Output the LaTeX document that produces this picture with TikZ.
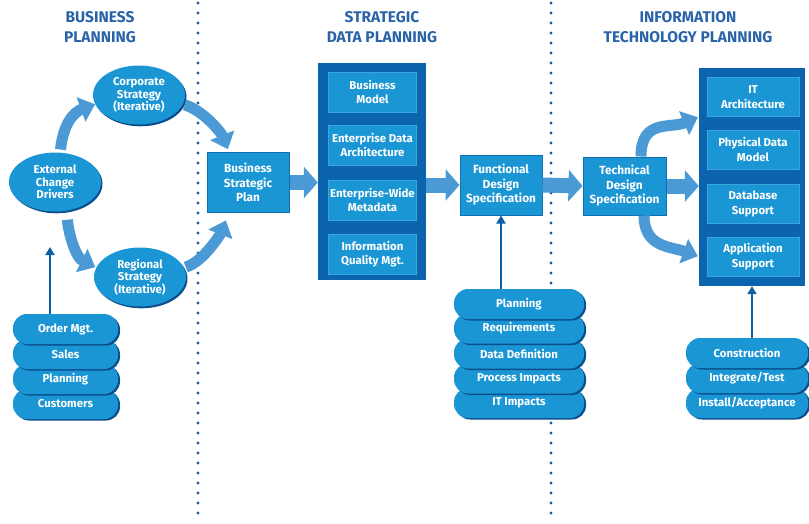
\documentclass[tikz,border=0pt]{standalone}
\usepackage{fontspec}
\setmainfont{Fira Sans}
\usetikzlibrary{shapes.geometric,arrows.meta,shadows,calc}
\definecolor{cyanbox}{HTML}{1B96D4}
\definecolor{boxedge}{HTML}{0E6FB5}
\definecolor{framec}{HTML}{0C63AE}
\definecolor{inedge}{HTML}{3AA6DE}
\definecolor{arrowc}{HTML}{4B9AD5}
\definecolor{titlec}{HTML}{2A64A8}
\definecolor{dotc}{HTML}{1A5A9E}
\definecolor{shadowc}{HTML}{0A4F8C}
\definecolor{thinc}{HTML}{0D5FA6}
\begin{document}
\begin{tikzpicture}[x=1pt,y=-1pt,
  txt/.style={text=white, font=\bfseries\fontsize{11.8}{14.5}\selectfont, align=center, inner sep=0pt},
  ell/.style={txt, font=\bfseries\fontsize{11.4}{12.6}\selectfont, ellipse, fill=cyanbox, minimum width=92pt, minimum height=59pt,
    general shadow={fill=shadowc, shadow xshift=1.5pt, shadow yshift=-1.8pt}},
  pbox/.style={txt, rectangle, fill=cyanbox, draw=boxedge, line width=1pt, minimum width=82pt, minimum height=60pt},
  bigframe/.style={rectangle, fill=framec, inner sep=0pt},
  inbox/.style={txt, font=\bfseries\fontsize{11.4}{14.5}\selectfont, rectangle, fill=cyanbox, draw=inedge, line width=0.6pt, minimum width=88pt, minimum height=40pt},
  pill/.style={txt, font=\bfseries\fontsize{11.4}{14}\selectfont, rectangle, rounded corners=14pt, fill=cyanbox, minimum height=30pt,
    general shadow={fill=shadowc, shadow xshift=2pt, shadow yshift=-1.5pt}},
  blockarrow/.style={line width=15pt, draw=arrowc, -{Triangle[width=31pt,length=14pt]}},
  curvearrow/.style={line width=11pt, draw=arrowc, -{Triangle[width=25pt,length=15pt]}},
  stackarrow/.style={draw=thinc, line width=2.5pt, -{Triangle[width=9pt,length=8pt]}},
  heading/.style={text=titlec, font=\bfseries\fontsize{15.5}{20}\selectfont, align=center},
  dotline/.style={draw=dotc, line width=3.2pt, line cap=round, dash pattern=on 0pt off 10pt}
]
\useasboundingbox (0,0) rectangle (809,523);

% separators
\draw[dotline] (198,3) -- (198,523);
\draw[dotline] (551,3) -- (551,523);

% headings
\node[heading] (h1) at (100,27) {BUSINESS\\PLANNING};
\node[heading] (h2) at (382,27) {STRATEGIC\\DATA PLANNING};
\node[heading] (h3) at (688,27) {INFORMATION\\TECHNOLOGY PLANNING};

% business planning
\node[ell] (corp) at (139,95) {Corporate\\Strategy\\(Iterative)};
\node[ell] (ext) at (55,182) {External\\Change\\Drivers};
\node[ell] (reg) at (140,277) {Regional\\Strategy\\(Iterative)};
\node[pbox] (bsp) at (248,182.5) {Business\\Strategic\\Plan};

% strategic data planning
\node[bigframe, minimum width=108pt, minimum height=217pt] (sframe) at (372,171.5) {};
\node[inbox] (bm) at (372.5,92) {Business\\Model};
\node[inbox] (eda) at (372.5,145) {Enterprise Data\\Architecture};
\node[inbox] (ewm) at (372.5,200) {Enterprise-Wide\\Metadata};
\node[inbox] (iqm) at (372.5,254) {Information\\Quality Mgt.};
\node[pbox] (fds) at (501,185) {Functional\\Design\\Specification};

% IT planning
\node[pbox, minimum width=83pt, minimum height=58pt] (tds) at (624.5,186) {Technical\\Design\\Specification};
\node[bigframe, minimum width=106pt, minimum height=218pt] (itframe) at (752,177) {};
\node[inbox, minimum width=92pt, minimum height=39pt] (ita) at (753,97) {IT\\Architecture};
\node[inbox, minimum width=92pt, minimum height=39pt] (pdm) at (753,149.5) {Physical Data\\Model};
\node[inbox, minimum width=92pt, minimum height=39pt] (dbs) at (753,204) {Database\\Support};
\node[inbox, minimum width=92pt, minimum height=39pt] (aps) at (753,256.5) {Application\\Support};

% stacks (lower first so upper overlaps)
\node[pill, minimum width=105pt] (cus) at (65.5,404) {Customers};
\node[pill, minimum width=105pt] (pla) at (65.5,379) {Planning};
\node[pill, minimum width=105pt] (sal) at (65.5,354) {Sales};
\node[pill, minimum width=105pt] (ord) at (65.5,329) {Order Mgt.};

\node[pill, minimum width=130pt] (iti) at (519,403) {IT Impacts};
\node[pill, minimum width=130pt] (pri) at (519,378.5) {Process Impacts};
\node[pill, minimum width=130pt] (dd) at (519,353.5) {Data Definition};
\node[pill, minimum width=130pt] (req) at (519,328.5) {Requirements};
\node[pill, minimum width=130pt] (pln) at (519,304) {Planning};

\node[pill, minimum width=122pt] (ins) at (747,403) {Install/Acceptance};
\node[pill, minimum width=122pt] (int) at (747,378) {Integrate/Test};
\node[pill, minimum width=122pt] (con) at (747,353) {Construction};

% curved arrows, business planning
\draw[curvearrow, shorten <=3pt] (ext.80) .. controls +(3,-28) and +(-22,8) .. (corp.192);
\draw[curvearrow, shorten <=2pt, shorten >=3pt] (corp.348) .. controls +(20,6) and +(-8,-20) .. (bsp.122);
\draw[curvearrow, shorten <=9pt, shorten >=1pt] (ext.292) .. controls +(2,24) and +(-20,-10) .. (reg.168);
\draw[curvearrow, shorten <=2pt, shorten >=8pt] (reg.12) .. controls +(20,-6) and +(-8,20) .. (bsp.238);

% straight block arrows
\draw[blockarrow] (bsp.east) -- (bsp.east -| sframe.west);
\draw[blockarrow] (sframe.east |- fds.west) -- (fds.west);
\draw[blockarrow] (fds.east) -- (tds.west);
\draw[blockarrow] (tds.east) -- (tds.east -| itframe.west);

% curved arrows, IT planning
\draw[curvearrow, shorten >=1pt] (tds.north -| 641,0) .. controls +(0,-38) and +(-28,12) .. (itframe.west |- ita.south);
\draw[curvearrow, shorten >=1pt] (tds.south -| 644,0) .. controls +(0,32) and +(-28,-10) .. (itframe.west |- aps.east);

% stack arrows
\coordinate (extin) at (50,247);
\draw[stackarrow] (ord.north -| extin) -- (extin);
\draw[stackarrow] (fds.south |- pln.north) -- (fds.south);
\draw[stackarrow] (itframe.south |- con.north) -- (itframe.south);
\end{tikzpicture}
\end{document}
